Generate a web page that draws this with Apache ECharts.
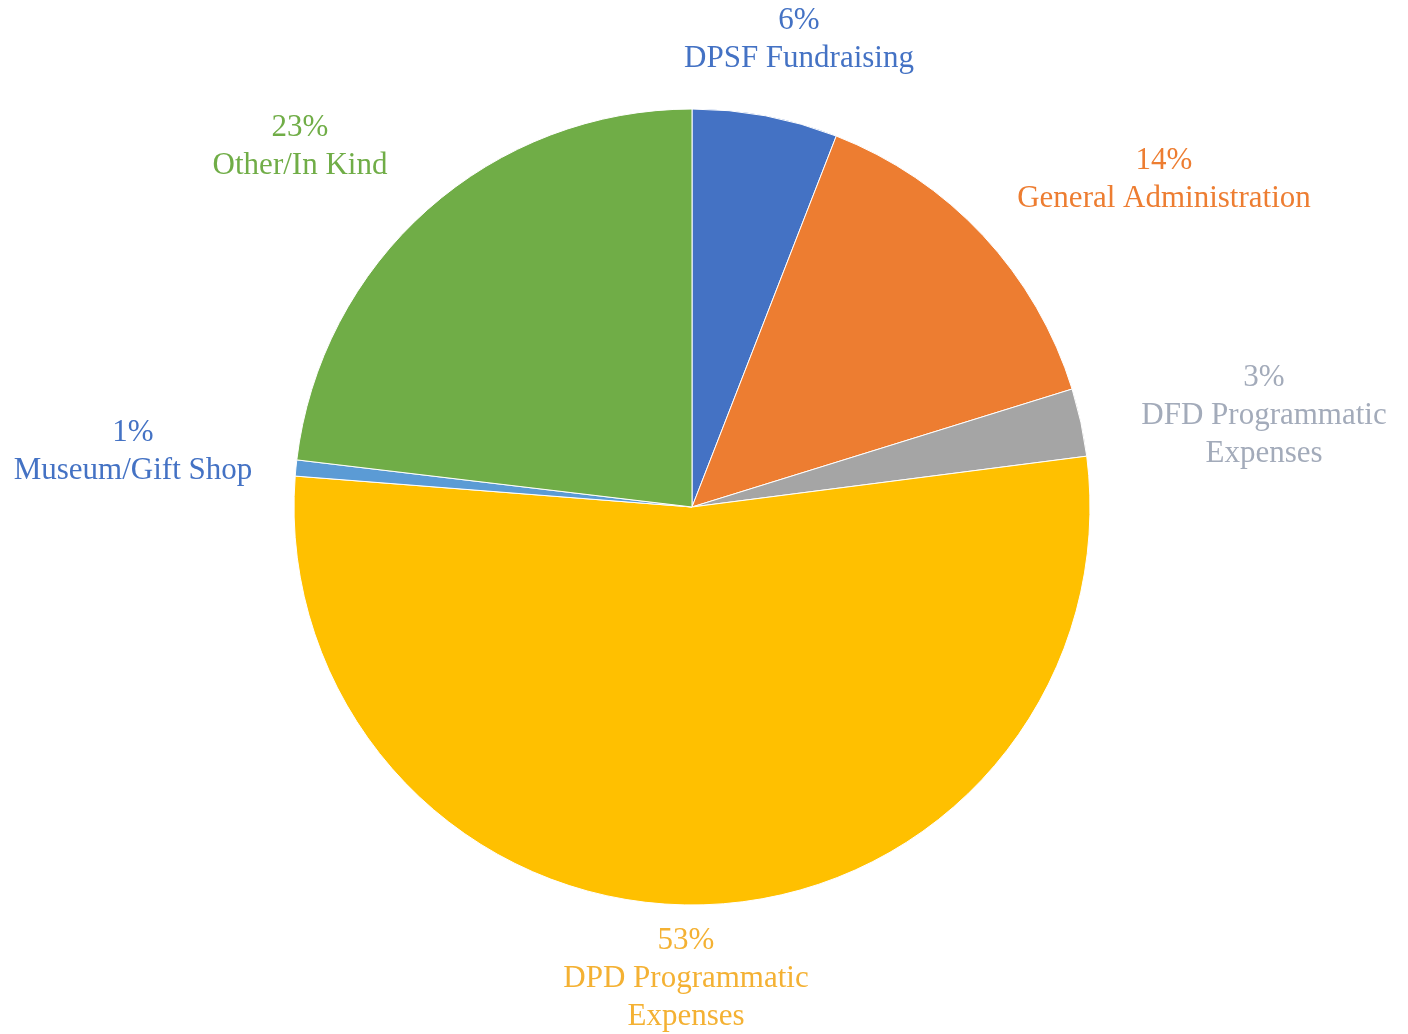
<!DOCTYPE html>
<html lang="en" style="height: 100%">
<head>
<meta charset="utf-8">
<title>Expense Breakdown Pie</title>
</head>
<body style="height: 100%; margin: 0; background: #fff">
<div id="container" style="height: 100%"></div>
<script type="text/javascript" src="https://cdn.jsdelivr.net/npm/echarts/dist/echarts.min.js"></script>
<script type="text/javascript">
var dom = document.getElementById('container');
var myChart = echarts.init(dom);

// Data (clockwise from 12 o'clock)
var categories = ['DPSF Fundraising', 'General Administration', 'DFD Programmatic\nExpenses',
    'DPD Programmatic\nExpenses', 'Museum/Gift Shop', 'Other/In Kind'];
var values = [5.9, 14.3, 2.75, 53.25, 0.65, 23.1];
var sliceColors = ['#4472C4', '#ED7D31', '#A5A5A5', '#FFC000', '#5B9BD5', '#70AD47'];
var labelColors = ['#4472C4', '#ED7D31', '#A3ABBA', '#F4B133', '#4472C4', '#70AD47'];

// label anchor points (centre of first line)
var labelPos = [[799, 2], [1164, 142], [1264, 359], [686, 922], [133, 414], [300, 109]];

var seriesData = categories.map(function (name, i) {
    return {
        name: name,
        value: values[i],
        itemStyle: { color: sliceColors[i] },
        label: { color: labelColors[i] }
    };
});

var option = {
    backgroundColor: '#fff',
    series: [{
        type: 'pie',
        center: [692, 507],
        radius: 398,
        startAngle: 90,
        clockwise: true,
        data: seriesData,
        itemStyle: { borderColor: '#fff', borderWidth: 1 },
        label: {
            show: true,
            position: 'outside',
            fontFamily: 'Liberation Serif',
            fontSize: 31,
            lineHeight: 38,
            align: 'center',
            overflow: 'none',
            formatter: function (p) {
                return Math.round(p.value) + '%\n' + p.name;
            }
        },
        labelLine: { show: false },
        labelLayout: function (params) {
            var pos = labelPos[params.dataIndex];
            return {
                x: pos[0],
                y: pos[1],
                align: 'center',
                verticalAlign: 'top'
            };
        },
        emphasis: { disabled: true }
    }]
};

myChart.setOption(option);
window.addEventListener('resize', myChart.resize);
</script>
</body>
</html>
